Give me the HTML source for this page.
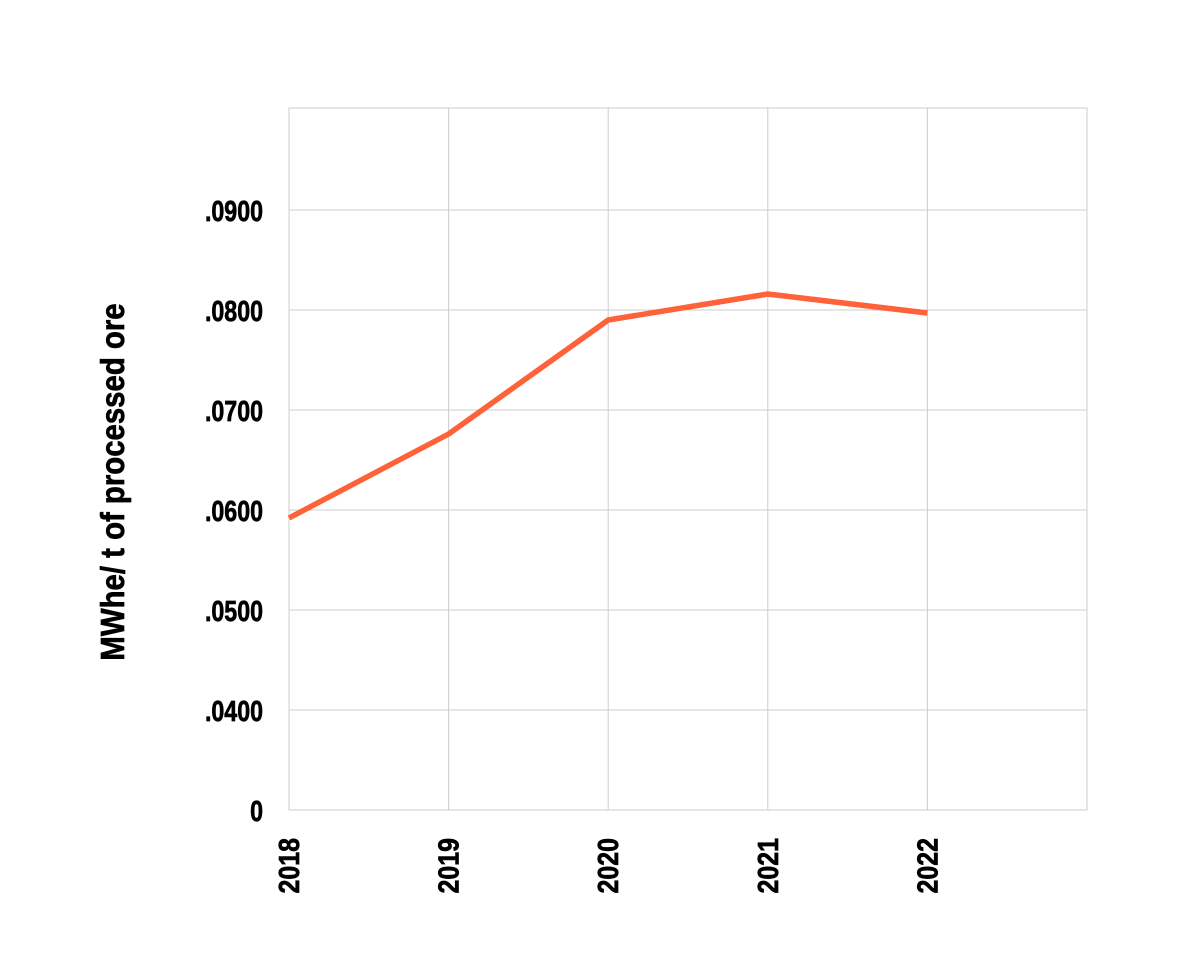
<!DOCTYPE html>
<html><head><meta charset="utf-8"><style>
html,body{margin:0;padding:0;background:#fff;}
svg{display:block;}
text{font-family:"Liberation Sans",sans-serif;font-weight:bold;fill:#000;stroke:#000;stroke-width:0.7;}
</style></head><body>
<svg id="chart" width="1200" height="980"></svg>
<script>
const categories = ["2018","2019","2020","2021","2022"];
const values = [0.0592, 0.0676, 0.0790, 0.0816, 0.0797];
const yTicks = [0, 0.04, 0.05, 0.06, 0.07, 0.08, 0.09];
const yTickLabels = ["0",".0400",".0500",".0600",".0700",".0800",".0900"];

const NS="http://www.w3.org/2000/svg";
const svg=document.getElementById('chart');
const L=289,R=1087,T=108,B=810;
const nSlots=5;
function x(i){return L+i*(R-L)/nSlots;}
function y(v){ if(v<=0) return B; return 710-(v-0.04)*10000; }
function mk(tag,attrs){const e=document.createElementNS(NS,tag);for(const k in attrs)e.setAttribute(k,attrs[k]);svg.appendChild(e);return e;}

const frame=mk('rect',{x:L,y:T,width:R-L,height:B-T,fill:'none',stroke:'#cccccc','stroke-width':1});



yTicks.forEach((v,i)=>{
  const g=mk('line',{x1:L,x2:R,y1:y(v),y2:y(v),stroke:'#cccccc','stroke-width':1});
  
  
  const t=mk('text',{x:0,y:0,'text-anchor':'end','font-size':29,transform:`translate(263,${y(v)+11}) scale(0.80,1)`});
  t.textContent=yTickLabels[i];
  
  
});
for(let i=0;i<=nSlots;i++){
  const g=mk('line',{x1:x(i),x2:x(i),y1:T,y2:B,stroke:'#cccccc','stroke-width':1});
  
  
}
categories.forEach((c,i)=>{
  const t=mk('text',{x:0,y:0,'text-anchor':'end','font-size':29,transform:`translate(${x(i)+10},838) rotate(-90) scale(0.86,1)`});
  t.textContent=c;
  
  
});
const pts=values.map((v,i)=>x(i)+','+y(v)).join(' ');
const line=mk('polyline',{points:pts,fill:'none',stroke:'#ff6138','stroke-width':5.5,'stroke-linejoin':'round'});



const yt=mk('text',{x:0,y:0,'text-anchor':'middle','font-size':33,'stroke-width':0.8,transform:'translate(124,482) rotate(-90) scale(0.89,1)'});
yt.textContent='MWhe/ t of processed ore';


</script>
</body></html>
